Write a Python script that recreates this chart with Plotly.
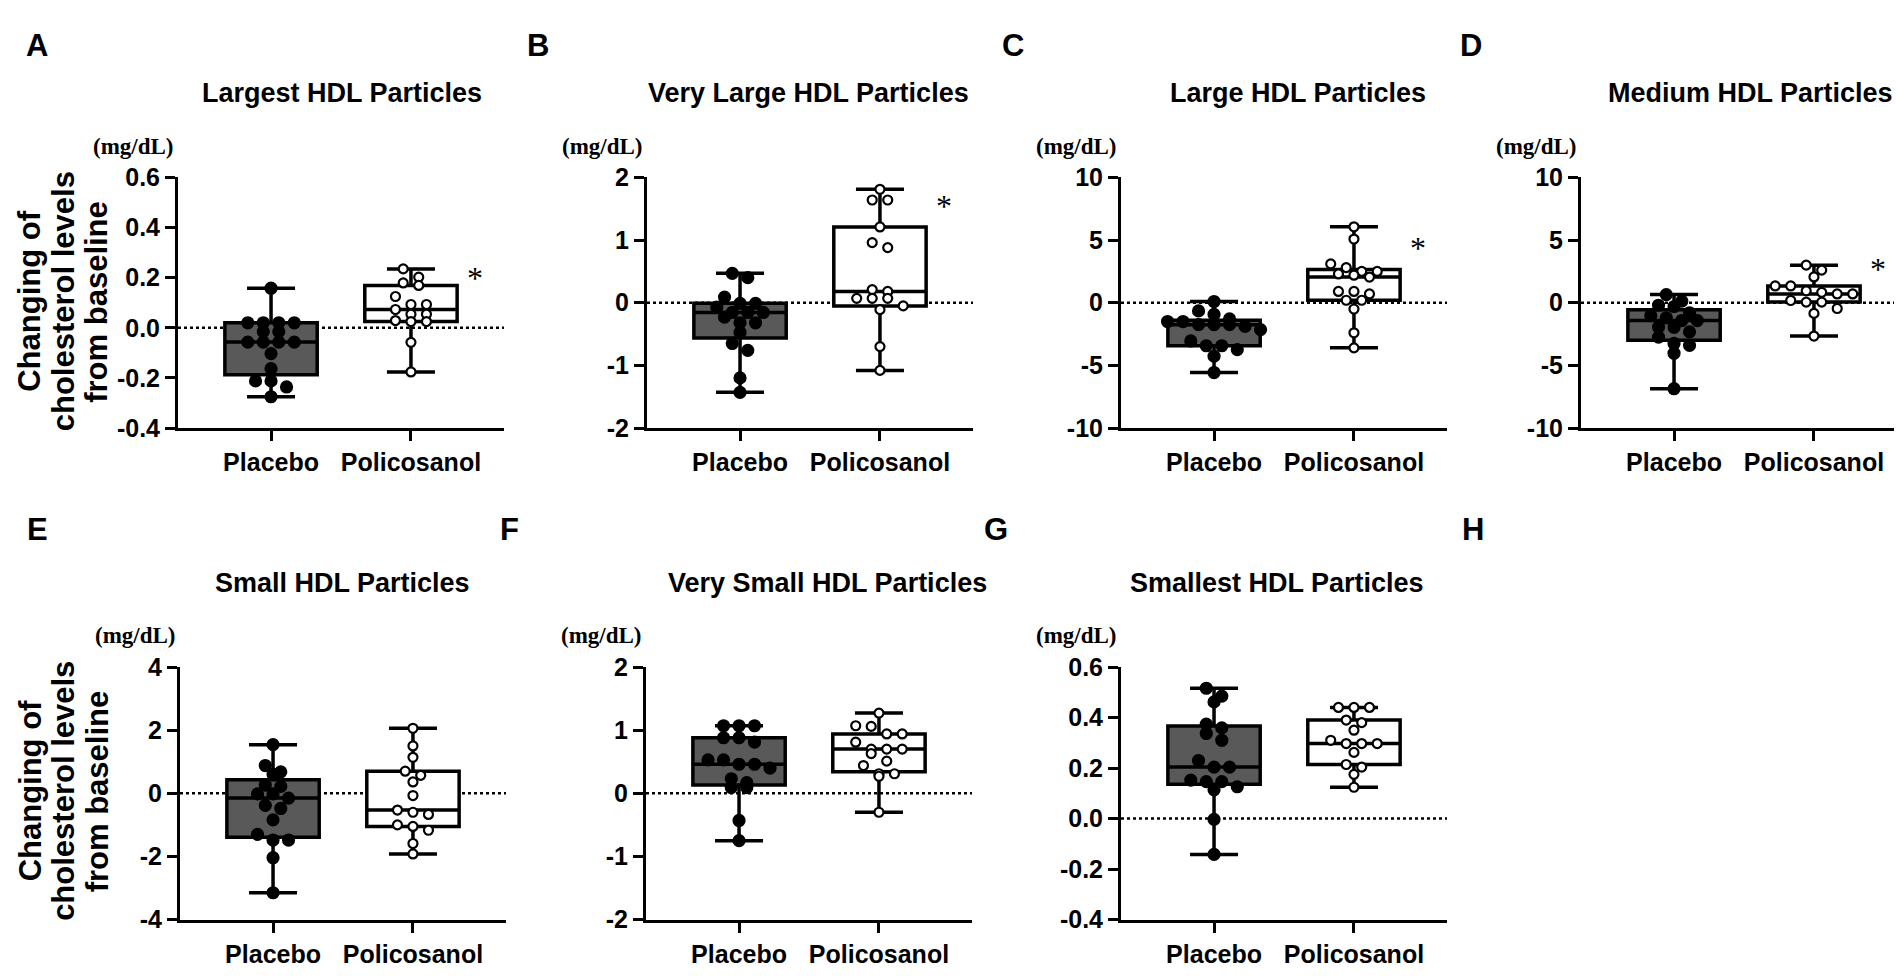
import numpy as np
import plotly.graph_objects as go

# panel titles / letters / groups
titles = ["Largest HDL Particles", "Very Large HDL Particles", "Large HDL Particles",
          "Medium HDL Particles", "Small HDL Particles", "Very Small HDL Particles",
          "Smallest HDL Particles"]
letters = ["A", "B", "C", "D", "E", "F", "G", "H"]
groups = ["Placebo", "Policosanol"]

# values (change from baseline, mg/dL)
placebo_a = [0.158, 0.02, 0.02, 0.02, 0.02, -0.015, -0.015, -0.057, -0.057, -0.057, -0.057,
             -0.103, -0.163, -0.212, -0.212, -0.236, -0.275]
policosanol_a = [0.235, 0.202, 0.179, 0.169, 0.125, 0.093, 0.093, 0.073, 0.054, 0.054, 0.029,
                 0.025, 0.025, -0.058, -0.176]
placebo_b = [0.47, 0.40, 0.09, -0.01, -0.01, -0.07, -0.155, -0.155, -0.155, -0.23, -0.32, -0.32,
             -0.475, -0.65, -0.76, -1.2, -1.43]
policosanol_b = [1.81, 1.64, 1.64, 1.21, 0.96, 0.88, 0.21, 0.18, 0.07, 0.07, 0.07, -0.05, -0.11,
                 -0.70, -1.08]
placebo_c = [0.1, -0.65, -0.93, -1.29, -1.5, -1.5, -1.75, -1.75, -1.75, -1.88, -2.14, -3.05,
             -3.43, -3.43, -3.74, -4.26, -5.57]
policosanol_c = [6.06, 5.08, 3.1, 2.8, 2.5, 2.5, 2.3, 2.2, 2.05, 0.9, 0.9, 0.7, 0.2, 0.2, -0.5,
                 -2.4, -3.6]
placebo_d = [0.65, 0.13, -0.2, -0.3, -0.8, -1.03, -1.2, -1.42, -1.42, -1.94, -1.96, -2.32,
             -2.74, -3.25, -3.4, -4.03, -6.86]
policosanol_d = [3.0, 2.6, 2.06, 1.34, 1.34, 0.95, 0.83, 0.7, 0.7, 0.18, 0.05, 0.05, -0.46,
                 -0.85, -2.66]
placebo_e = [1.54, 0.88, 0.68, 0.6, 0.26, 0.22, -0.02, -0.02, -0.15, -0.38, -0.48, -0.84, -1.3,
             -1.48, -1.48, -2.04, -3.15]
policosanol_e = [2.06, 1.5, 1.14, 0.7, 0.57, 0.36, -0.07, -0.53, -0.6, -0.67, -1.0, -1.05,
                 -1.17, -1.59, -1.92]
placebo_f = [1.07, 1.07, 1.07, 0.88, 0.88, 0.81, 0.53, 0.53, 0.46, 0.46, 0.40, 0.23, 0.17,
             0.09, 0.09, -0.43, -0.75]
policosanol_f = [1.27, 1.07, 1.06, 0.94, 0.94, 0.81, 0.70, 0.70, 0.70, 0.63, 0.51, 0.44, 0.31,
                 0.31, 0.27, -0.30]
placebo_g = [0.516, 0.485, 0.462, 0.374, 0.359, 0.337, 0.31, 0.23, 0.204, 0.204, 0.152, 0.146,
             0.146, 0.126, 0.114, -0.003, -0.142]
policosanol_g = [0.44, 0.44, 0.44, 0.39, 0.38, 0.35, 0.31, 0.297, 0.297, 0.297, 0.262, 0.214,
                 0.204, 0.175, 0.124]

# y axis ticks per panel
yticks_a = [-0.4, -0.2, 0, 0.2, 0.4, 0.6]
ylabels_a = ["-0.4", "-0.2", "0.0", "0.2", "0.4", "0.6"]
yticks_b = [-2, -1, 0, 1, 2]
ylabels_b = ["-2", "-1", "0", "1", "2"]
yticks_c = [-10, -5, 0, 5, 10]
ylabels_c = ["-10", "-5", "0", "5", "10"]
yticks_e = [-4, -2, 0, 2, 4]
ylabels_e = ["-4", "-2", "0", "2", "4"]

# significance marks (panel, y)
star_panels = [0, 1, 2, 3]
star_y = [0.21, 1.59, 4.57, 2.9]

panels = [
    (placebo_a, policosanol_a, yticks_a, ylabels_a),
    (placebo_b, policosanol_b, yticks_b, ylabels_b),
    (placebo_c, policosanol_c, yticks_c, ylabels_c),
    (placebo_d, policosanol_d, yticks_c, ylabels_c),
    (placebo_e, policosanol_e, yticks_e, ylabels_e),
    (placebo_f, policosanol_f, yticks_b, ylabels_b),
    (placebo_g, policosanol_g, yticks_a, ylabels_a),
]

W, H = 1902, 980
left = [170, 639, 1113, 1573, 172, 638, 1113]
top = [160, 160, 160, 160, 664, 664, 664]
ph = [258, 258, 258, 258, 260, 260, 260]
pw = 326
xr = [-0.665, 1.665]
unit_px = pw / (xr[1] - xr[0])

title_x = [334, 800, 1290, 1742, 334, 819, 1269]
letter_x = [16, 517, 992, 1450, 17, 490, 974, 1452]

FONT = "Liberation Sans, Arial, sans-serif"
SERIF = "Liberation Serif, Times New Roman, serif"


def swarm(vals, px_per_unit, spacing_px=15.5, gap_px=9.0):
    vals = np.asarray(vals, dtype=float)
    order = np.argsort(-vals, kind="stable")
    offs = np.zeros(len(vals))
    bins, cur = [], []
    for idx in order:
        if cur and (vals[cur[0]] - vals[idx]) * px_per_unit > gap_px:
            bins.append(cur)
            cur = []
        cur.append(idx)
    if cur:
        bins.append(cur)
    for b in bins:
        k = len(b)
        for j, idx in enumerate(b):
            offs[idx] = (j - (k - 1) / 2) * spacing_px / unit_px
    return offs


fig = go.Figure()
layout = {}
shapes = []
annotations = []

for i, (pl, po, tv, tt) in enumerate(panels):
    n = "" if i == 0 else str(i + 1)
    xa, ya = "x" + n, "y" + n
    yr = [tv[0], tv[-1]]
    ppu = ph[i] / (yr[1] - yr[0])

    for g, (vals, fill, mcol, msize) in enumerate([(pl, "#595959", "black", 11),
                                                  (po, "white", "white", 9)]):
        arr = np.asarray(vals, dtype=float)
        q1, med, q3 = np.percentile(arr, [25, 50, 75], method="weibull")
        fig.add_trace(go.Box(
            x=[g], q1=[q1], median=[med], q3=[q3],
            lowerfence=[arr.min()], upperfence=[arr.max()],
            width=0.66, whiskerwidth=0.52, boxpoints=False,
            fillcolor=fill, line=dict(color="black", width=3.5),
            xaxis=xa, yaxis=ya, showlegend=False, hoverinfo="skip"))
        fig.add_trace(go.Scatter(
            x=g + swarm(arr, ppu), y=arr, mode="markers",
            marker=dict(size=msize, color=mcol, line=dict(color="black", width=2.2)),
            xaxis=xa, yaxis=ya, showlegend=False, hoverinfo="skip"))

    axis_common = dict(showline=True, linewidth=3, linecolor="black", ticks="outside",
                       ticklen=10, tickwidth=3, tickcolor="black", showgrid=False,
                       zeroline=False, fixedrange=True,
                       tickfont=dict(family=FONT, size=25, color="black", weight="bold"))
    layout["xaxis" + n] = dict(domain=[left[i] / W, (left[i] + pw) / W], range=xr,
                               tickmode="array", tickvals=[0, 1], ticktext=groups,
                               anchor=ya, **axis_common)
    layout["yaxis" + n] = dict(domain=[1 - (top[i] + ph[i]) / H, 1 - top[i] / H], range=yr,
                               tickmode="array", tickvals=tv, ticktext=tt,
                               anchor=xa, **axis_common)

    shapes.append(dict(type="line", xref=xa + " domain", yref=ya, x0=0, x1=1, y0=0, y1=0,
                       line=dict(color="black", width=2.5, dash="dot"), layer="below"))

    annotations.append(dict(text=titles[i], xref="paper", yref="paper",
                            x=title_x[i] / W, y=1 - (top[i] - 87) / H, showarrow=False,
                            xanchor="center", yanchor="middle",
                            font=dict(family=FONT, size=27, color="black", weight="bold")))
    annotations.append(dict(text="(mg/dL)", xref="paper", yref="paper",
                            x=(left[i] - 2) / W, y=1 - (top[i] - 32) / H, showarrow=False,
                            xanchor="right", yanchor="middle",
                            font=dict(family=SERIF, size=23, color="black", weight="bold")))

for k, p in enumerate(star_panels):
    n = "" if p == 0 else str(p + 1)
    annotations.append(dict(text="*", xref="x" + n, yref="y" + n, x=1.46, y=star_y[k],
                            showarrow=False, yshift=-3,
                            font=dict(family=SERIF, size=32, color="black")))

for j, L in enumerate(letters):
    cy = 24 if j < 4 else 522
    annotations.append(dict(text=L, xref="paper", yref="paper", x=letter_x[j] / W,
                            y=1 - cy / H, showarrow=False, xanchor="left", yanchor="middle",
                            font=dict(family=FONT, size=31, color="black", weight="bold")))

ytitle_lines = ["Changing of", "cholesterol levels", "from baseline"]
for cy in (288, 792):
    for j, line in enumerate(ytitle_lines):
        annotations.append(dict(text=line, xref="paper", yref="paper",
                                x=(22 + 33.5 * j) / W, y=1 - cy / H, textangle=-90,
                                showarrow=False, xanchor="center", yanchor="middle",
                                font=dict(family=FONT, size=31, color="black",
                                          weight="bold")))

fig.update_layout(width=W, height=H, margin=dict(l=0, r=0, t=0, b=0),
                  paper_bgcolor="white", plot_bgcolor="white", boxmode="overlay",
                  shapes=shapes, annotations=annotations, **layout)

fig.write_html("out.html")
